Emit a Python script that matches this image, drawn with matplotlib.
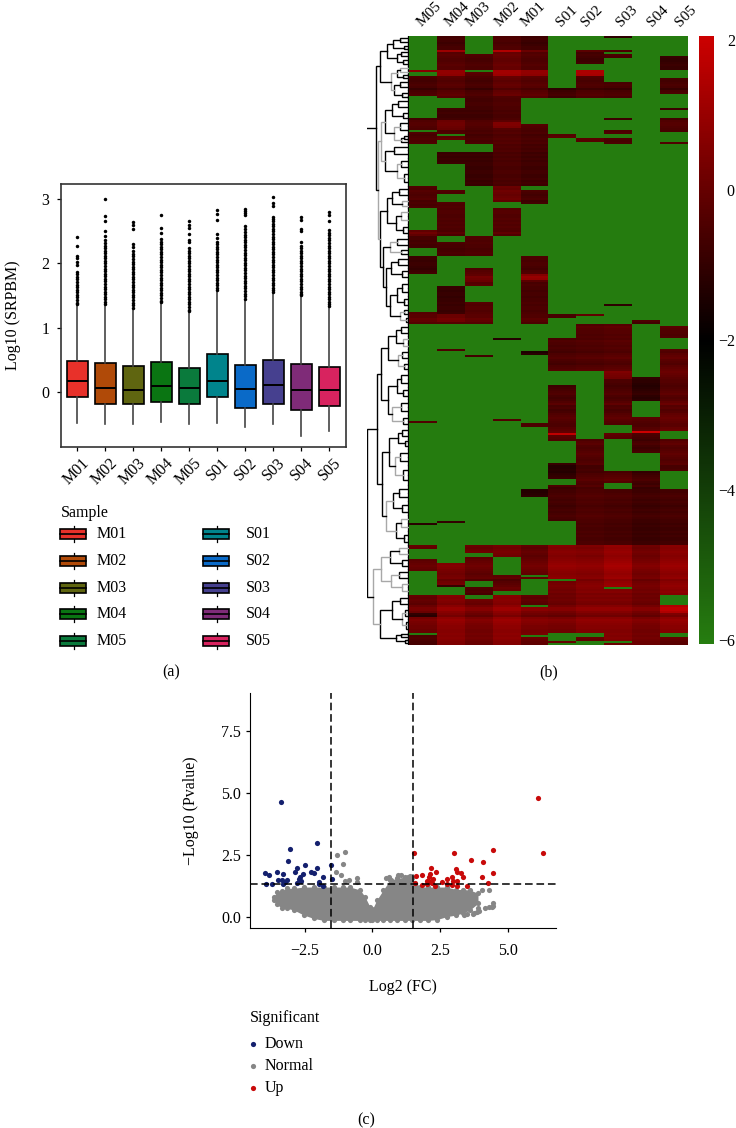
"""Three panel figure: boxplot, clustered heatmap and volcano plot."""

import matplotlib

matplotlib.use("Agg")

import matplotlib.pyplot as plt
import numpy as np
from matplotlib.colors import LinearSegmentedColormap, Normalize
from matplotlib.patches import Rectangle
from matplotlib.transforms import ScaledTranslation

W, H = 736, 1128
FONT = 11.5
plt.rcParams["font.family"] = ["Liberation Serif", "DejaVu Serif"]

# panel a
SAMPLES = ["M01", "M02", "M03", "M04", "M05", "S01", "S02", "S03", "S04", "S05"]
BOX_COLORS = ["#e8312a", "#b04a08", "#5f6510", "#0a7512", "#0a7a3c",
              "#00848c", "#0a6ac8", "#46408f", "#7f2b78", "#d8235f"]
Q1 = [-0.09, -0.20, -0.19, -0.16, -0.20, -0.09, -0.26, -0.20, -0.28, -0.23]
MEDIAN = [0.17, 0.06, 0.03, 0.08, 0.05, 0.16, 0.04, 0.11, 0.02, 0.03]
Q3 = [0.48, 0.44, 0.40, 0.46, 0.37, 0.58, 0.42, 0.49, 0.43, 0.39]
WHISK_LO = [-0.49, -0.51, -0.50, -0.48, -0.51, -0.49, -0.56, -0.50, -0.69, -0.62]
WHISK_HI = [1.33, 1.35, 1.28, 1.39, 1.23, 1.56, 1.43, 1.54, 1.48, 1.32]
FLIERS = [
    [2.42, 2.28, 2.12, 2.08, 2.03, 1.98, 1.86, 1.83, 1.79, 1.75, 1.71, 1.67, 1.63, 1.59,
     1.55, 1.51, 1.47, 1.43, 1.39, 1.36],
    [3.0, 2.74, 2.67, 2.5, 2.43, 2.37, 2.32, 2.28, 2.24, 2.2, 2.16, 2.12, 2.08, 2.04, 2.0,
     1.96, 1.92, 1.88, 1.84, 1.8, 1.76, 1.72, 1.68, 1.64, 1.6, 1.56, 1.52, 1.48, 1.44, 1.4, 1.37],
    [2.65, 2.6, 2.53, 2.3, 2.25, 2.2, 2.15, 2.11, 2.07, 2.03, 1.99, 1.95, 1.91, 1.87, 1.83,
     1.79, 1.75, 1.71, 1.67, 1.63, 1.59, 1.55, 1.51, 1.47, 1.43, 1.39, 1.35, 1.31],
    [2.75, 2.55, 2.48, 2.38, 2.34, 2.3, 2.26, 2.22, 2.18, 2.14, 2.1, 2.06, 2.02, 1.98, 1.94,
     1.9, 1.86, 1.82, 1.78, 1.74, 1.7, 1.66, 1.62, 1.58, 1.54, 1.5, 1.46, 1.42, 1.4],
    [2.66, 2.6, 2.55, 2.46, 2.36, 2.33, 2.24, 2.2, 2.16, 2.12, 2.08, 2.04, 2.0, 1.96, 1.92,
     1.88, 1.84, 1.8, 1.76, 1.72, 1.68, 1.64, 1.6, 1.56, 1.52, 1.48, 1.44, 1.4, 1.36, 1.32, 1.28, 1.25],
    [2.83, 2.77, 2.68, 2.46, 2.4, 2.34, 2.3, 2.26, 2.22, 2.18, 2.14, 2.1, 2.06, 2.02, 1.98,
     1.94, 1.9, 1.86, 1.82, 1.78, 1.74, 1.7, 1.66, 1.62, 1.58],
    [2.85, 2.82, 2.79, 2.76, 2.59, 2.53, 2.49, 2.45, 2.41, 2.37, 2.33, 2.29, 2.25, 2.21, 2.17,
     2.13, 2.09, 2.05, 2.01, 1.97, 1.93, 1.89, 1.85, 1.81, 1.77, 1.73, 1.69, 1.65, 1.61, 1.57,
     1.53, 1.49, 1.45],
    [3.04, 2.95, 2.9, 2.73, 2.7, 2.66, 2.62, 2.58, 2.54, 2.5, 2.46, 2.42, 2.38, 2.34, 2.3,
     2.26, 2.22, 2.18, 2.14, 2.1, 2.06, 2.02, 1.98, 1.94, 1.9, 1.86, 1.82, 1.78, 1.74, 1.7,
     1.66, 1.62, 1.58, 1.55],
    [2.73, 2.68, 2.53, 2.5, 2.34, 2.28, 2.24, 2.2, 2.16, 2.12, 2.08, 2.04, 2.0, 1.96, 1.92,
     1.88, 1.84, 1.8, 1.76, 1.72, 1.68, 1.64, 1.6, 1.56, 1.52, 1.5],
    [2.8, 2.76, 2.66, 2.52, 2.48, 2.44, 2.4, 2.36, 2.32, 2.28, 2.24, 2.2, 2.16, 2.12, 2.08,
     2.04, 2.0, 1.96, 1.92, 1.88, 1.84, 1.8, 1.76, 1.72, 1.68, 1.64, 1.6, 1.56, 1.52, 1.48,
     1.44, 1.4, 1.36, 1.33],
]

# panel b, each column as (stop row, value) runs, G = not detected
G = -6
HEAT_LABELS = ["M05", "M04", "M03", "M02", "M01", "S01", "S02", "S03", "S04", "S05"]
N_ROWS = 304
COL_M05 = [(17, G), (18, 0.3), (20, G), (30, -0.6), (41, G), (47, -0.6), (48, G), (54, -0.5), (75, G),
           (86, -0.5), (97, G), (100, 0), (106, -0.6), (110, G), (119, -0.7), (138, G), (144, -0.3),
           (192, G), (193, -0.5), (243, G), (244, -1.0), (254, G), (256, -0.1), (261, G), (267, -0.4),
           (279, G), (288, -0.1), (290, -1.0), (298, 0), (299, G), (304, -0.6)]
COL_M04 = [(7, -0.6), (8, 0.6), (17, -0.3), (20, 0.5), (31, -0.3), (36, G), (42, -0.6), (47, -0.1),
           (49, -0.5), (50, G), (52, -0.2), (58, G), (64, -0.7), (77, G), (79, -0.6), (83, G), (100, -0.4),
           (103, G), (110, -0.5), (125, G), (139, -0.8), (143, 0), (144, -0.3), (156, G), (157, -0.4),
           (242, G), (243, -0.9), (263, G), (274, 0.1), (275, -1.2), (279, G), (304, 0.5)]
COL_M03 = [(9, G), (17, -0.5), (18, G), (54, -0.6), (58, G), (75, -0.7), (100, G), (110, -0.4), (116, G),
           (125, -0.2), (133, G), (144, -0.3), (159, G), (160, -0.8), (254, G), (258, 0), (260, G),
           (272, -0.3), (275, G), (279, -0.6), (281, G), (304, 0.1)]
COL_M02 = [(7, -0.4), (8, 1.0), (17, 0), (20, 0.8), (30, -0.1), (43, -0.4), (46, 0.2), (75, -0.4), (83, 0),
           (86, G), (100, -0.3), (151, G), (152, -1.2), (191, G), (192, -0.6), (254, G), (260, 0.2),
           (269, G), (275, -0.4), (277, -0.1), (279, G), (304, 0.6)]
COL_M01 = [(7, -0.7), (17, -0.4), (20, 0.5), (31, -0.3), (44, G), (75, -0.6), (77, G), (84, -0.7), (110, G),
           (119, -0.4), (122, 0.5), (144, -0.5), (157, G), (159, -1.2), (193, G), (195, -0.5), (226, G),
           (230, -1.2), (254, G), (269, -0.2), (270, G), (271, -0.4), (279, G), (284, -0.2), (285, G),
           (299, 0.2), (300, G), (304, -0.1)]
COL_S01 = [(26, G), (31, -0.8), (49, G), (51, -0.2), (139, G), (141, -0.7), (151, G), (167, -0.5), (174, G),
           (198, -0.5), (199, 1.6), (202, -0.3), (213, G), (221, -1.0), (224, G), (242, -0.6), (254, G),
           (271, 0.5), (272, G), (298, 0.1), (302, G), (303, 0), (304, G)]
COL_S02 = [(7, G), (14, -0.7), (17, G), (20, 1.0), (31, -0.5), (51, G), (53, -0.3), (139, G), (140, -0.2),
           (144, G), (167, -0.4), (201, G), (254, -0.4), (298, 0.4), (300, G), (302, -0.2), (304, G)]
COL_S03 = [(1, -1.0), (7, G), (8, -1.0), (9, G), (11, -0.6), (23, G), (31, -0.6), (41, G), (42, -0.7),
           (47, G), (49, -0.5), (51, G), (54, -0.6), (134, G), (135, -1.0), (144, G), (167, -0.3),
           (171, 0.2), (194, -0.4), (198, G), (201, -0.3), (217, G), (223, -0.3), (226, G), (254, -0.5),
           (275, 0.8), (276, G), (302, 0.4), (303, G), (304, 0.1)]
COL_S04 = [(142, G), (144, -0.7), (170, G), (182, -1.0), (190, G), (197, -0.5), (198, 1.8), (208, -0.7),
           (217, G), (254, -0.7), (304, 0.1)]
COL_S05 = [(10, G), (17, -0.9), (21, G), (29, -0.6), (36, G), (37, -0.7), (41, G), (48, -0.6), (53, G),
           (54, -0.5), (145, G), (151, -0.4), (156, G), (197, -0.2), (201, G), (217, -0.3), (226, G),
           (254, -0.6), (279, 0.6), (284, G), (288, 1.3), (298, 0.5), (300, G), (304, -0.2)]
HEAT_COLS = [COL_M05, COL_M04, COL_M03, COL_M02, COL_M01, COL_S01, COL_S02, COL_S03, COL_S04, COL_S05]
# row brightness, one digit per row, 4 is neutral
ROW_TONE = ("3432344" "9" "454334544" "887" "543454" "1" "4564" "33443" "3232"
            "236776" "54534545" "3434" "232323" "32233223232" "54654"
            "5634" "34344334343433" "634" "4343323433" "323321345"
            "987" "343323323343" "4434557644" "654434354343245"
            "6432456765433212345323573423567654467865"
            "4356434565434511213456435233454343234345"
            "43323223232233" "54565456789876567356765645"
            "454369964279876655656544")

# dendrogram: (height, child, child), an int is a leaf of that many rows, negative height is grey
TREE_U = (29, (22, (16, (9, 2, 2), (5, 2, 1)), (12, (8, 2, 2), (6, 2, 2))),
          (-18, (12, (-9, 2, 2), (6, 1, 2)), (15, (9, 2, 3), (7, 3, 1))))
TREE_L1 = (-28, (24, (17, (11, 3, 3), (6, 3, 2)), (-15, (9, 3, 4), (8, (5, 2, 1), 2))),
           (24, (15, 3, 4), (-12, (8, 3, 3), (5, 4, 4))))
TREE_L2 = (29, (22, (17, (10, 3, 3), (-7, 3, 2)), (13, (-8, 4, 4), (6, 3, 3))),
           (26, (-19, (12, 3, 3), (8, 2, 2)),
            (23, (18, (11, 3, 3), (7, 3, 3)), (19, (12, (7, 4, 4), (5, 3, 3)), (-9, (5, 2, 2), (3, 2, 2))))))
TREE_TOP = (33, TREE_U, (-31, TREE_L1, TREE_L2))
TREE_X1 = (28, (21, (13, (8, 3, 3), (-6, 3, 3)), (-11, (7, 3, 3), (5, 3, 2))),
           (21, (12, (8, 4, 4), (6, 3, 3)), (-17, (8, 4, 4), (6, 3, 3))))
TREE_X2 = (27, (20, (11, (7, 3, 3), (4, 2, 3)), (-14, (9, 4, 4), (6, 5, 5))),
           (-23, (16, (10, 4, 4), (7, 4, 3)), (13, (-8, 4, 4), (5, 4, 3))))
TREE_Y = (-36, (-28, (19, (-10, 3, 3), (7, 3, 3)), (-18, (10, 3, 3), (-7, 3, 4))),
          (29, (17, (9, 3, 3), (-7, (4, 3, 3), (3, 3, 4))), (13, (8, 1, 2), (4, 1, 2))))
TREE_BOTTOM = (42, (32, TREE_X1, TREE_X2), TREE_Y)

# panel c
DOWN_X = [-3.37, -2.06, -3.05, -3.11, -2.48, -2.78, -2.06, -1.54, -2.87, -2.28, -2.16, -3.98, -3.80, -3.54,
          -3.30, -2.58, -2.67, -2.72, -1.82, -1.51, -3.49, -3.34, -3.17, -3.92, -3.71, -3.30, -3.22, -2.78,
          -2.65, -1.99, -1.96, -1.83]
DOWN_Y = [4.64, 2.98, 2.75, 2.25, 2.10, 1.97, 1.97, 2.10, 1.79, 1.82, 1.77, 1.75, 1.68, 1.79,
          1.74, 1.71, 1.60, 1.51, 1.60, 1.51, 1.47, 1.47, 1.47, 1.31, 1.33, 1.33, 1.39, 1.37,
          1.46, 1.39, 1.31, 1.24]
UP_X = [6.12, 6.30, 1.54, 3.00, 4.47, 3.66, 4.09, 2.16, 3.07, 3.13, 2.36, 3.26, 3.35, 2.14, 1.84, 1.60, 2.08,
        4.47, 4.05, 2.95, 2.76, 2.98, 3.11, 2.25, 2.00, 2.12, 2.56, 4.27, 1.57, 1.84, 2.31, 2.76, 2.93, 3.13,
        3.48, 2.00, 2.22]
UP_Y = [4.81, 2.56, 2.59, 2.56, 2.71, 2.28, 2.21, 1.99, 1.94, 1.82, 1.82, 1.75, 1.62, 1.73, 1.70, 1.66, 1.62,
        1.75, 1.60, 1.60, 1.52, 1.46, 1.46, 1.51, 1.46, 1.41, 1.39, 1.35, 1.35, 1.28, 1.25, 1.31, 1.28, 1.24,
        1.25, 1.31, 1.35]
# outline of the dense grey cloud
CLOUD_X = [-3.65, -3.53, -3.35, -3.16, -2.9, -2.54, -2.17, -1.8, -1.4, -1.1, -0.82, -0.45, -0.27, -0.09, 0.0, 0.16,
           0.4, 0.65, 0.9, 1.2, 1.45, 1.76, 2.05, 2.37, 2.74, 3.1, 3.35, 3.6, 3.9]
CLOUD_TOP = [0.78, 1.0, 1.05, 1.15, 1.15, 1.2, 1.2, 1.2, 1.2, 1.2, 1.2, 1.08, 0.8, 0.4, 0.3, 0.67,
             1.08, 1.48, 1.55, 1.6, 1.55, 1.2, 1.2, 1.2, 1.2, 1.1, 1.1, 1.08, 0.95]
CLOUD_BOTTOM = [0.67, 0.5, 0.35, 0.34, 0.27, 0.07, -0.07, -0.15, -0.15, -0.15, -0.15, -0.15, -0.15, -0.15, -0.15, -0.15,
                -0.15, -0.15, -0.15, -0.15, -0.15, -0.15, -0.15, -0.12, 0.0, 0.07, 0.15, 0.27, 0.54]
STRAY_X = [-1.3, -1.0, -1.1, -1.35, -1.15, -1.0, -0.85, -0.55, -0.55, 0.5, 0.6, 0.7, 0.95, 1.05, 1.3, 1.4,
           4.15, 4.3, 4.4, 4.47, 4.47, 4.3, 4.05, 3.75, 3.85, 3.95, 3.4, 3.5, 3.7, 3.9]
STRAY_Y = [2.5, 2.62, 2.15, 1.8, 1.7, 1.45, 1.5, 1.55, 1.4, 1.55, 1.6, 1.5, 1.7, 1.7, 1.6, 1.65,
           0.35, 0.4, 0.4, 0.45, 0.55, 1.07, 1.1, 0.15, 0.2, 0.25, 0.08, 0.1, 0.12, 0.35]
V_CUTS = [-1.54, 1.51]
H_CUT = 1.33


def add_axes_px(fig, x0, y0, x1, y1):
    return fig.add_axes([x0 / W, 1 - y1 / H, (x1 - x0) / W, (y1 - y0) / H])


def nudge(label, fig, dx_px, dy_px=0):
    """Move a tick label by a few pixels."""
    shift = ScaledTranslation(dx_px / fig.dpi, dy_px / fig.dpi, fig.dpi_scale_trans)
    label.set_transform(label.get_transform() + shift)


def heat_matrix():
    mat = np.full((N_ROWS, len(HEAT_COLS)), float(G))
    tone = (np.array([int(d) for d in ROW_TONE]) - 4) * 0.1
    for c, runs in enumerate(HEAT_COLS):
        start = 0
        for stop, val in runs:
            if val != G:
                mat[start:stop, c] = val + tone[start:stop]
            start = stop
    return mat


def draw_tree(ax, node, row):
    """Returns centre row, next free row and height of the node."""
    if isinstance(node, int):
        ax.plot([1.5, 1.5], [row, row + node], color="black", lw=0.9)
        ax.plot([1.5, 0], [row + node / 2] * 2, color="black", lw=0.9)
        return row + node / 2, row + node, 1.5
    color = "#a8a8a8" if node[0] < 0 else "black"
    h = abs(node[0])
    c1, row, h1 = draw_tree(ax, node[1], row)
    c2, row, h2 = draw_tree(ax, node[2], row)
    ax.plot([h1, h, h, h2], [c1, c1, c2, c2], color=color, lw=1.0, solid_joinstyle="miter")
    return (c1 + c2) / 2, row, h


def draw_box_panel(fig):
    ax = add_axes_px(fig, 60.5, 184, 346, 447)
    stats = []
    for i, name in enumerate(SAMPLES):
        stats.append({"label": name, "q1": Q1[i], "med": MEDIAN[i], "q3": Q3[i],
                      "whislo": WHISK_LO[i], "whishi": WHISK_HI[i], "fliers": FLIERS[i]})
    parts = ax.bxp(stats, widths=0.74, patch_artist=True, showcaps=False,
                   boxprops={"edgecolor": "black", "linewidth": 1.2},
                   medianprops={"color": "black", "linewidth": 1.4},
                   whiskerprops={"color": "#444444", "linewidth": 1.2},
                   flierprops={"marker": "o", "markersize": 2.5, "markerfacecolor": "black",
                               "markeredgecolor": "black", "markeredgewidth": 0})
    for box, color in zip(parts["boxes"], BOX_COLORS):
        box.set_facecolor(color)
    ax.set_xlim(0.4, 10.6)
    ax.set_ylim(-0.865, 3.24)
    ax.set_yticks([0, 1, 2, 3])
    ax.set_ylabel("Log10 (SRPBM)", fontsize=FONT, labelpad=15)
    ax.tick_params(axis="y", labelsize=FONT, length=3, width=0.9, pad=5)
    ax.tick_params(axis="x", labelsize=FONT, length=3, width=0.9, pad=3)
    plt.setp(ax.get_xticklabels(), rotation=45, ha="right", rotation_mode="anchor")
    for label in ax.get_xticklabels():
        nudge(label, fig, 4)
    for side in ax.spines.values():
        side.set_linewidth(1.2)
        side.set_color("#333333")


def draw_heat_panel(fig):
    cmap = LinearSegmentedColormap.from_list("gbr", [(0.0, "#267d10"), (0.5, "#000000"), (1.0, "#cc0000")])
    norm = Normalize(vmin=-6.05, vmax=2.05)
    ax = add_axes_px(fig, 409, 36, 688, 645)
    im = ax.imshow(heat_matrix(), aspect="auto", interpolation="nearest", cmap=cmap, norm=norm)
    ax.xaxis.tick_top()
    ax.set_xticks(range(len(HEAT_LABELS)), HEAT_LABELS, rotation=45, ha="center", va="bottom", fontsize=11)
    ax.set_yticks([])
    ax.tick_params(axis="x", length=0, pad=5)
    # the labels in the source drift away from their columns
    for label, dx in zip(ax.get_xticklabels(), [6, 6, 0, 1, -1, 4, 2, 9, 12, 12]):
        nudge(label, fig, dx)
    for side in ax.spines.values():
        side.set_visible(False)

    cax = add_axes_px(fig, 699, 36, 714, 644)
    bar = fig.colorbar(im, cax=cax)
    bar.outline.set_visible(False)
    bar.set_ticks([2, 0, -2, -4, -6], labels=["2", "0", "\u22122", "\u22124", "\u22126"])
    bar.ax.tick_params(length=0, labelsize=FONT, pad=15)
    plt.setp(bar.ax.get_yticklabels(), ha="right")

    tree = add_axes_px(fig, 367, 36, 409, 645)
    tree.set_xlim(42, 0)
    tree.set_ylim(N_ROWS, 0)
    tree.axis("off")
    center, next_row, _ = draw_tree(tree, TREE_TOP, 0)
    tree.plot([42, 33], [center, center], color="black", lw=1.0)
    draw_tree(tree, TREE_BOTTOM, next_row)
    tree.plot([0.3, 0.3], [0, N_ROWS], color="black", lw=1.0, ls=(0, (2, 1)))


def draw_volcano_panel(fig):
    ax = add_axes_px(fig, 250, 693, 555.7, 928)
    ax.fill_between(CLOUD_X, CLOUD_BOTTOM, CLOUD_TOP, color="#868686", lw=0)
    dot = {"s": 14, "linewidths": 0}
    ax.scatter(CLOUD_X, CLOUD_TOP, color="#868686", **dot)
    ax.scatter(CLOUD_X, CLOUD_BOTTOM, color="#868686", **dot)
    ax.scatter(STRAY_X, STRAY_Y, color="#868686", **dot)
    ax.scatter(DOWN_X, DOWN_Y, color="#14206e", **dot)
    ax.scatter(UP_X, UP_Y, color="#c80a0a", **dot)
    for cut in V_CUTS:
        ax.axvline(cut, color="black", lw=1.1, ls=(0, (5, 2.5)))
    ax.axhline(H_CUT, color="black", lw=1.1, ls=(0, (5, 2.5)))
    ax.set_xlim(-4.52, 6.77)
    ax.set_ylim(-0.457, 9.05)
    ax.set_xticks([-2.5, 0, 2.5, 5], ["\u22122.5", "0.0", "2.5", "5.0"])
    ax.set_yticks([0, 2.5, 5, 7.5], ["0.0", "2.5", "5.0", "7.5"])
    ax.set_xlabel("Log2 (FC)", fontsize=FONT, labelpad=14)
    ax.set_ylabel("\u2212Log10 (Pvalue)", fontsize=FONT, labelpad=16)
    ax.tick_params(axis="y", labelsize=FONT, length=3, width=0.9)
    ax.tick_params(axis="x", labelsize=FONT, length=3, width=0.9, pad=8)
    ax.spines["top"].set_visible(False)
    ax.spines["right"].set_visible(False)


def draw_annotations(fig):
    over = fig.add_axes([0, 0, 1, 1], zorder=5)
    over.set_xlim(0, W)
    over.set_ylim(H, 0)
    over.axis("off")
    over.patch.set_alpha(0)
    over.text(61, 513, "Sample", fontsize=FONT, va="center")
    for i, name in enumerate(SAMPLES):
        x0 = 60 if i < 5 else 203
        y = 534 + (i % 5) * 26.8
        over.plot([x0 + 13.5, x0 + 13.5], [y - 8, y + 8], color="black", lw=0.9)
        over.add_patch(Rectangle((x0, y - 5), 26, 10, facecolor=BOX_COLORS[i], edgecolor="black", lw=1.2, zorder=3))
        over.plot([x0, x0 + 26], [y, y], color="black", lw=1.2, zorder=4)
        over.text(97 if i < 5 else 246, y, name, fontsize=FONT, va="center")
    over.text(171, 672, "(a)", fontsize=FONT, ha="center", va="center")
    over.text(549, 672, "(b)", fontsize=FONT, ha="center", va="center")
    over.text(366, 1120, "(c)", fontsize=FONT, ha="center", va="center")
    over.text(250, 1018, "Significant", fontsize=FONT, va="center")
    for label, color, y in [("Down", "#14206e", 1044), ("Normal", "#868686", 1066), ("Up", "#c80a0a", 1088)]:
        over.scatter([253], [y], s=14, color=color, linewidths=0)
        over.text(265, y, label, fontsize=FONT, va="center")


def main():
    fig = plt.figure(figsize=(W / 100, H / 100), dpi=100)
    draw_box_panel(fig)
    draw_heat_panel(fig)
    draw_volcano_panel(fig)
    draw_annotations(fig)
    fig.savefig("out.png", dpi=100)
    plt.close(fig)


main()
